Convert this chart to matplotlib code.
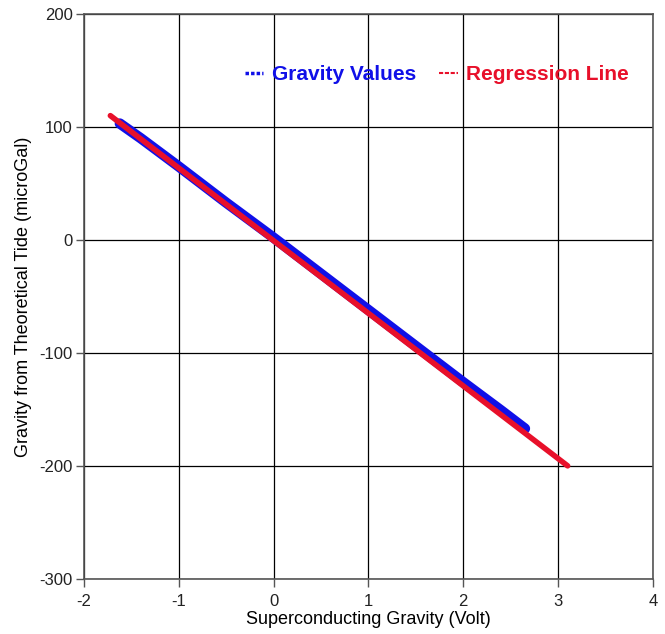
import matplotlib.pyplot as plt
from matplotlib.lines import Line2D

plt.rcParams["font.family"] = ["Liberation Sans", "DejaVu Sans"]
plt.rcParams["axes.unicode_minus"] = False

# gravity readings (volt vs. microGal), traced along the band
gravity_volt = [-1.62, -1.40, -1.00, -0.50, 0.00, 0.50, 1.00, 1.50, 2.00, 2.40, 2.65]
gravity_ugal = [103, 90, 65, 33, 2, -30, -62, -94, -126, -151, -167]

# least-squares regression line end points
regression_volt = [-1.72, 3.10]
regression_ugal = [110, -200]

x_ticks = [-2, -1, 0, 1, 2, 3, 4]
y_ticks = [-300, -200, -100, 0, 100, 200]

fig = plt.figure(figsize=(6.65, 6.34), dpi=100)
ax = fig.add_axes([0.126, 0.087, 0.856, 0.891])

ax.plot(gravity_volt, gravity_ugal, color="#1010e8", linewidth=7.5,
        solid_capstyle="round", zorder=3)
ax.plot(regression_volt, regression_ugal, color="#e8102a", linewidth=4,
        solid_capstyle="round", zorder=4)

ax.set_xlim(-2, 4)
ax.set_ylim(-300, 200)
ax.set_xticks(x_ticks)
ax.set_yticks(y_ticks)
ax.grid(True, color="black", linewidth=0.9)
ax.set_axisbelow(True)
for side in ax.spines.values():
    side.set_color("#555555")
    side.set_linewidth(1.2)
ax.tick_params(direction="out", length=6, width=1, color="#555555",
               labelsize=12, labelcolor="#222222")
ax.tick_params(axis="x", pad=5)
ax.tick_params(axis="y", pad=2)

ax.set_xlabel("Superconducting Gravity (Volt)", fontsize=13, labelpad=1)
ax.set_ylabel("Gravity from Theoretical Tide (microGal)", fontsize=13, labelpad=5)

handles = [
    Line2D([], [], color="#1010e8", linestyle=(0, (1, 0.6)), linewidth=2.5),
    Line2D([], [], color="#e8102a", linestyle=(0, (2, 0.8)), linewidth=1.5),
]
leg = ax.legend(handles, ["Gravity Values", "Regression Line"], ncol=2,
                frameon=False, loc="upper right", bbox_to_anchor=(0.99, 0.942),
                handlelength=0.9, handletextpad=0.4, columnspacing=1.1,
                prop={"size": 15, "weight": "bold"})
for text, col in zip(leg.get_texts(), ["#1010e8", "#e8102a"]):
    text.set_color(col)

fig.savefig("out.png")
